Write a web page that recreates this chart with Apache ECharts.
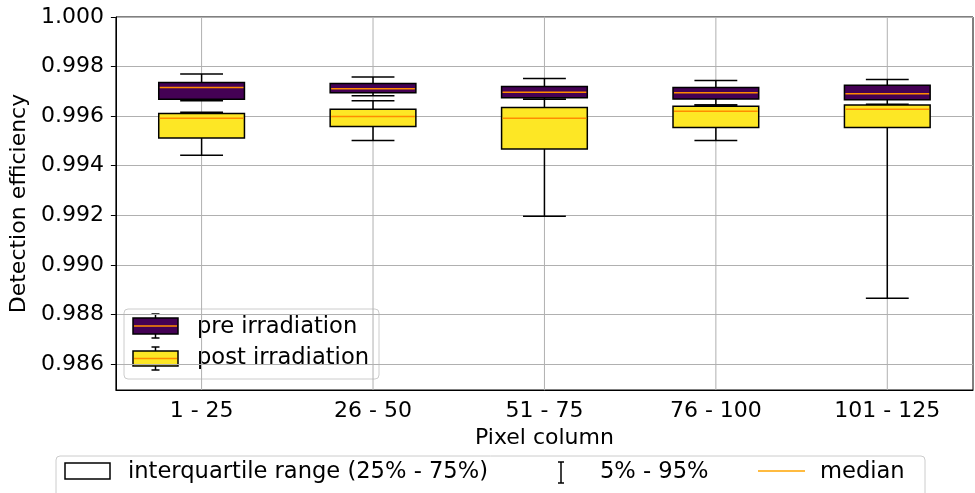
<!DOCTYPE html>
<html><head><meta charset="utf-8">
<script src="https://cdn.jsdelivr.net/npm/echarts@6/dist/echarts.min.js"></script>
<style>html,body{margin:0;padding:0;background:#fff}#chart{width:975px;height:493px}</style>
</head><body><div id="chart"></div>
<script>
// Pixel column groups
const categories = ['1 - 25', '26 - 50', '51 - 75', '76 - 100', '101 - 125'];

// Detection efficiency before irradiation: 5%, 25%, median, 75%, 95%
const preP5  = [0.99662, 0.99682, 0.99668, 0.99645, 0.99630];
const preQ1  = [0.99668, 0.99694, 0.99674, 0.99669, 0.99666];
const preMed = [0.99716, 0.99710, 0.99696, 0.99694, 0.99690];
const preQ3  = [0.99736, 0.99732, 0.99720, 0.99716, 0.99725];
const preP95 = [0.99770, 0.99758, 0.99752, 0.99744, 0.99748];

// Detection efficiency after irradiation
const postP5  = [0.99442, 0.99502, 0.99196, 0.99502, 0.98865];
const postQ1  = [0.99512, 0.99558, 0.99467, 0.99554, 0.99554];
const postMed = [0.99591, 0.99599, 0.99591, 0.99620, 0.99628];
const postQ3  = [0.99611, 0.99628, 0.99635, 0.99640, 0.99645];
const postP95 = [0.99616, 0.99662, 0.99668, 0.99645, 0.99648];

const PRE_COLOR = '#440154';
const POST_COLOR = '#fde725';
const MEDIAN_COLOR = '#ff8c00';
const FONT = 'DejaVu Sans';

function rows(p5, q1, med, q3, p95) {
  return categories.map((c, i) => [i, p5[i], q1[i], med[i], q3[i], p95[i]]);
}

function boxRenderer(fill) {
  return function (params, api) {
    const c = api.value(0);
    const lo = api.coord([c, api.value(1)]);
    const q1 = api.coord([c, api.value(2)]);
    const md = api.coord([c, api.value(3)]);
    const q3 = api.coord([c, api.value(4)]);
    const hi = api.coord([c, api.value(5)]);
    const band = api.size([1, 0])[0];
    const half = band * 0.25, cap = band * 0.125;
    const x = lo[0];
    const seg = (x1, y1, x2, y2, stroke) => ({
      type: 'line', shape: { x1, y1, x2, y2 }, style: { stroke, lineWidth: 1.5 }
    });
    return {
      type: 'group',
      children: [
        seg(x, lo[1], x, q1[1], '#000'),
        seg(x, q3[1], x, hi[1], '#000'),
        seg(x - cap, lo[1], x + cap, lo[1], '#000'),
        seg(x - cap, hi[1], x + cap, hi[1], '#000'),
        { type: 'rect', shape: { x: x - half, y: q3[1], width: half * 2, height: q1[1] - q3[1] },
          style: { fill, stroke: '#000', lineWidth: 1.5 } },
        seg(x - half + 1, md[1], x + half - 1, md[1], MEDIAN_COLOR)
      ]
    };
  };
}

// vertical grid lines through each category centre
function gridRenderer(params, api) {
  const p = api.coord([api.value(0), 1.0]);
  const cs = params.coordSys;
  return { type: 'line', shape: { x1: p[0], y1: cs.y, x2: p[0], y2: cs.y + cs.height },
           style: { stroke: '#b0b0b0', lineWidth: 1 } };
}

// legend icon: box with whiskers and median line
function legendIcon(x, y, w, h, fill) {
  const cx = x + w / 2;
  return [
    { type: 'line', shape: { x1: cx, y1: y - 4, x2: cx, y2: y }, style: { stroke: '#000', lineWidth: 1.5 } },
    { type: 'line', shape: { x1: cx, y1: y + h, x2: cx, y2: y + h + 4 }, style: { stroke: '#000', lineWidth: 1.5 } },
    { type: 'line', shape: { x1: cx - 4, y1: y - 4, x2: cx + 4, y2: y - 4 }, style: { stroke: '#000', lineWidth: 1.5 } },
    { type: 'line', shape: { x1: cx - 4, y1: y + h + 4, x2: cx + 4, y2: y + h + 4 }, style: { stroke: '#000', lineWidth: 1.5 } },
    { type: 'rect', shape: { x, y, width: w, height: h }, style: { fill, stroke: '#000', lineWidth: 1.5 } },
    { type: 'line', shape: { x1: x + 1, y1: y + h / 2, x2: x + w - 1, y2: y + h / 2 }, style: { stroke: MEDIAN_COLOR, lineWidth: 1.5 } }
  ];
}

const textStyle = (x, y, text) => ({
  type: 'text', x, y,
  style: { text, font: '22.6px "DejaVu Sans"', fill: '#000', textVerticalAlign: 'middle' }
});

const chart = echarts.init(document.getElementById('chart'), null, { renderer: 'canvas' });
chart.setOption({
  animation: false,
  backgroundColor: '#fff',
  textStyle: { fontFamily: FONT },
  grid: { left: 113, right: 2, top: 17, bottom: 103, show: true, borderColor: '#000', borderWidth: 1, containLabel: false },
  xAxis: {
    type: 'category',
    data: categories,
    boundaryGap: true,
    name: 'Pixel column',
    nameLocation: 'middle',
    nameGap: 35,
    nameTextStyle: { fontSize: 22, color: '#000', fontFamily: FONT },
    axisLine: { lineStyle: { color: '#000', width: 1 } },
    axisTick: { alignWithLabel: true, length: 5, lineStyle: { color: '#000' } },
    axisLabel: { fontSize: 22, color: '#000', margin: 10, fontFamily: FONT },
    splitLine: { show: false }
  },
  yAxis: {
    type: 'value',
    min: 0.98495,
    max: 1.0,
    splitNumber: 8,
    name: 'Detection efficiency',
    nameLocation: 'middle',
    nameGap: 80,
    nameTextStyle: { fontSize: 22, color: '#000', fontFamily: FONT },
    axisLine: { show: true, lineStyle: { color: '#000', width: 1 } },
    axisTick: { show: true, length: 5, lineStyle: { color: '#000' } },
    axisLabel: { fontSize: 22, color: '#000', margin: 12, fontFamily: FONT, showMinLabel: false,
                 formatter: v => v.toFixed(3) },
    splitLine: { show: true, lineStyle: { color: '#b0b0b0', width: 1 } }
  },
  series: [
    { type: 'custom', name: 'grid', silent: true, z: 1, renderItem: gridRenderer,
      data: categories.map((c, i) => [i]) },
    { type: 'custom', name: 'pre irradiation', z: 3, renderItem: boxRenderer(PRE_COLOR),
      encode: { x: 0, y: [1, 2, 3, 4, 5] }, data: rows(preP5, preQ1, preMed, preQ3, preP95) },
    { type: 'custom', name: 'post irradiation', z: 4, renderItem: boxRenderer(POST_COLOR),
      encode: { x: 0, y: [1, 2, 3, 4, 5] }, data: rows(postP5, postQ1, postMed, postQ3, postP95) }
  ],
  graphic: [
    // series legend inside the plot
    { type: 'group', z: 100, children: [
      { type: 'rect', shape: { x: 124, y: 309, width: 255, height: 70, r: 4 },
        style: { fill: 'rgba(255,255,255,0.85)', stroke: '#cccccc', lineWidth: 1 } },
      ...legendIcon(133, 318, 45, 16, PRE_COLOR),
      textStyle(197, 327, 'pre irradiation'),
      ...legendIcon(133, 351, 45, 15, POST_COLOR),
      textStyle(197, 358, 'post irradiation')
    ] },
    // key for the box elements below the axes
    { type: 'group', z: 100, children: [
      { type: 'rect', shape: { x: 56, y: 456, width: 869, height: 42, r: 4 },
        style: { fill: '#fff', stroke: '#cccccc', lineWidth: 1 } },
      { type: 'rect', shape: { x: 65, y: 463, width: 45, height: 16 },
        style: { fill: '#fff', stroke: '#000', lineWidth: 1.5 } },
      textStyle(128, 472, 'interquartile range (25% - 75%)'),
      { type: 'line', shape: { x1: 561, y1: 462, x2: 561, y2: 483 }, style: { stroke: '#000', lineWidth: 1.5 } },
      { type: 'line', shape: { x1: 558, y1: 462, x2: 564, y2: 462 }, style: { stroke: '#000', lineWidth: 1.5 } },
      { type: 'line', shape: { x1: 558, y1: 483, x2: 564, y2: 483 }, style: { stroke: '#000', lineWidth: 1.5 } },
      textStyle(600, 472, '5% - 95%'),
      { type: 'line', shape: { x1: 758, y1: 471, x2: 805, y2: 471 }, style: { stroke: '#ffa500', lineWidth: 1.5 } },
      textStyle(820, 472, 'median')
    ] }
  ]
});
</script>
</body></html>
